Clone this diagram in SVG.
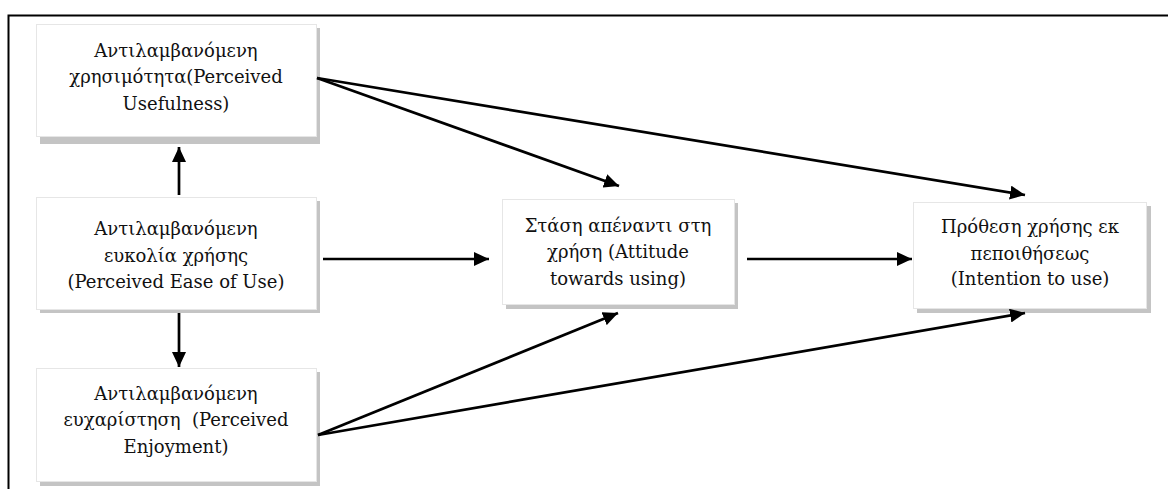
<svg xmlns="http://www.w3.org/2000/svg" width="1171" height="489" viewBox="0 0 1171 489">
<style>
.box{fill:#ffffff;stroke:#e6e6e6;stroke-width:1}
.shadow{fill:#c4c4c4}
.t{font-family:'DejaVu Serif','Liberation Serif',serif;font-size:18px;fill:#111;text-anchor:middle}
.c{stroke:#000;stroke-width:2.7;fill:none}
</style>
<defs>
<marker id="ah" viewBox="0 0 15 14" refX="15" refY="7" markerWidth="15" markerHeight="14" markerUnits="userSpaceOnUse" orient="auto">
<path d="M0,0 L15,7 L0,14 z" fill="#000"/>
</marker>
</defs>
<rect width="1171" height="489" fill="#fff"/>
<path d="M8.5,489 V15.5 H1168" stroke="#000" stroke-width="2" fill="none"/>
<g id="n1">
<rect class="shadow" x="40" y="28" width="280" height="116"/>
<rect class="box" x="36.5" y="24.5" width="280" height="112"/>
<text class="t" x="176" y="57">Αντιλαμβανόμενη</text>
<text class="t" x="176" y="83">χρησιμότητα(Perceived</text>
<text class="t" x="176" y="110">Usefulness)</text>
</g>
<g id="n2">
<rect class="shadow" x="40" y="201" width="280" height="112"/>
<rect class="box" x="36.5" y="197.5" width="280" height="112"/>
<text class="t" x="176" y="235">Αντιλαμβανόμενη</text>
<text class="t" x="176" y="262">ευκολία χρήσης</text>
<text class="t" x="176" y="288">(Perceived Ease of Use)</text>
</g>
<g id="n3">
<rect class="shadow" x="40" y="372" width="280" height="114"/>
<rect class="box" x="36.5" y="368.5" width="280" height="113"/>
<text class="t" x="176" y="400">Αντιλαμβανόμενη</text>
<text class="t" x="176" y="426" xml:space="preserve">ευχαρίστηση  (Perceived</text>
<text class="t" x="176" y="453">Enjoyment)</text>
</g>
<g id="n4">
<rect class="shadow" x="506" y="203" width="232" height="106"/>
<rect class="box" x="502.5" y="199.5" width="232" height="105"/>
<text class="t" x="618" y="232">Στάση απέναντι στη</text>
<text class="t" x="618" y="258">χρήση (Attitude</text>
<text class="t" x="618" y="285">towards using)</text>
</g>
<g id="n5">
<rect class="shadow" x="917" y="206" width="234" height="107"/>
<rect class="box" x="913.5" y="202.5" width="233" height="106"/>
<text class="t" x="1030" y="233">Πρόθεση χρήσης εκ</text>
<text class="t" x="1030" y="260">πεποιθήσεως</text>
<text class="t" x="1030" y="285">(Intention to use)</text>
</g>
<g id="connectors">
<line class="c" x1="179" y1="195" x2="179" y2="147" marker-end="url(#ah)"/>
<line class="c" x1="179" y1="313" x2="179" y2="367" marker-end="url(#ah)"/>
<line class="c" x1="323" y1="259" x2="489" y2="259" marker-end="url(#ah)"/>
<line class="c" x1="747" y1="259" x2="912" y2="259" marker-end="url(#ah)"/>
<line class="c" x1="317" y1="78" x2="619" y2="186" marker-end="url(#ah)"/>
<line class="c" x1="317" y1="78" x2="1025" y2="195" marker-end="url(#ah)"/>
<line class="c" x1="318" y1="435" x2="618" y2="313" marker-end="url(#ah)"/>
<line class="c" x1="318" y1="435" x2="1025" y2="313" marker-end="url(#ah)"/>
</g>
</svg>
